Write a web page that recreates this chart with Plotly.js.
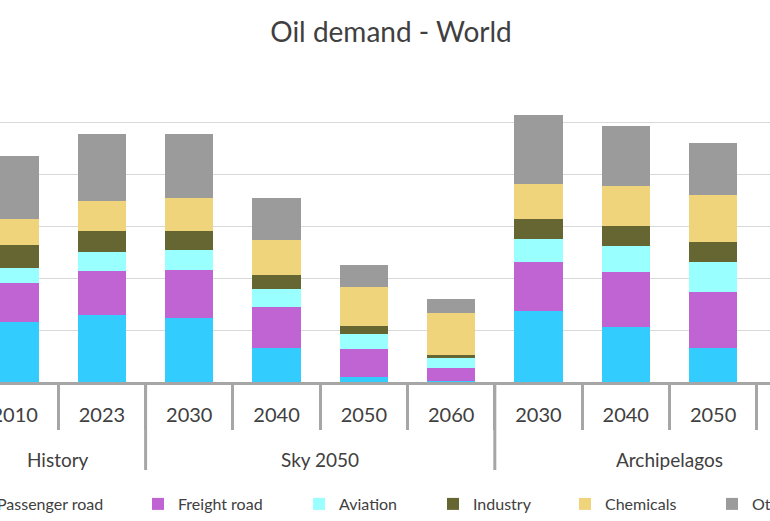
<!DOCTYPE html>
<html>
<head>
<meta charset="utf-8">
<script src="https://cdn.plot.ly/plotly-3.0.1.min.js"></script>
<style>
  html, body { margin: 0; padding: 0; background: #ffffff; overflow: hidden; }
  #chart { width: 770px; height: 521px; }
</style>
</head>
<body>
<div id="chart"></div>
<script>
// ---- data (million barrels per day) ----
const groups = ['History','History','Sky 2050','Sky 2050','Sky 2050','Sky 2050','Archipelagos','Archipelagos','Archipelagos','Archipelagos'];
const years  = ['2010','2023','2030','2040','2050','2060','2030','2040','2050','2060'];

const passengerRoad = [23.2, 25.9, 24.7, 13.1, 2.0, 0.3, 27.4, 21.1, 13.2, null];
const freightRoad   = [15.1, 16.7, 18.3, 15.7, 10.9, 5.0, 19.0, 21.4, 21.4, null];
const aviation      = [5.8, 7.5, 7.8, 7.2, 5.6, 3.8, 8.7, 10.0, 11.7, null];
const industry      = [8.5, 7.9, 7.2, 5.4, 3.1, 1.3, 7.8, 7.5, 7.8, null];
const chemicals     = [10.3, 11.6, 12.9, 13.3, 15.0, 16.1, 13.5, 15.4, 18.1, null];
const other         = [24.1, 25.8, 24.5, 16.2, 8.3, 5.4, 26.4, 23.1, 19.7, null];

const seriesNames  = ['Passenger road','Freight road','Aviation','Industry','Chemicals','Other'];
const seriesValues = [passengerRoad, freightRoad, aviation, industry, chemicals, other];
const seriesColors = ['#33CCFF','#C064D4','#99FFFF','#666633','#F0D47C','#9B9B9B'];

// ---- derived positions (category slots 0..n-1 on a linear axis) ----
const W = 770, H = 521;
const slots = years.map((_, i) => i);
const boundaries = [-0.5].concat(slots.map(i => i + 0.5));
const groupNames = [];
groups.forEach(g => { if (groupNames.indexOf(g) < 0) groupNames.push(g); });
const groupStarts = slots.filter(i => i === 0 || groups[i] !== groups[i - 1]).map(i => i - 0.5);
groupStarts.push(slots.length - 0.5);
const groupCenters = groupNames.map(g => {
  const idx = slots.filter(i => groups[i] === g);
  return idx.reduce((a, b) => a + b, 0) / idx.length;
});

const legendTextStart = [-3, 178, 339, 473, 605, 752];
const legendKeys = ['legend','legend2','legend3','legend4','legend5','legend6'];

const traces = seriesNames.map((name, i) => ({
  type: 'bar',
  name: name,
  x: slots,
  y: seriesValues[i],
  marker: { color: seriesColors[i], line: { width: 0 } },
  legend: legendKeys[i],
  hoverinfo: 'name+y'
}));

const textColor = '#404040';
const axisGray = '#A6A6A6';
const plotTop = 70, plotBottom = 382, plotH = plotBottom - plotTop;
const py = px => (plotBottom - px) / plotH;   // pixel row -> paper y

const shapes = groupStarts.map(b => ({
  type: 'line', xref: 'x', yref: 'paper',
  x0: b, x1: b, y0: 0, y1: py(470),
  line: { color: axisGray, width: 3 }, layer: 'above'
}));

const annotations = groupNames.map((g, k) => ({
  text: g, xref: 'x', yref: 'paper',
  x: groupCenters[k], y: py(459), xanchor: 'center', yanchor: 'middle',
  showarrow: false, font: { size: 19, color: textColor }
}));

const layout = {
  width: W,
  height: H,
  paper_bgcolor: '#ffffff',
  plot_bgcolor: '#ffffff',
  font: { family: 'Lato, "Open Sans", sans-serif', color: textColor },
  margin: { l: 0, r: 0, t: plotTop, b: H - plotBottom, pad: 0, autoexpand: false },
  barmode: 'stack',
  bargap: 0.446,
  title: {
    text: 'Oil demand - World',
    font: { size: 28, color: textColor, family: 'Lato, sans-serif' },
    xref: 'paper', x: 391 / W, xanchor: 'center',
    yref: 'container', y: 1 - 32 / H, yanchor: 'middle'
  },
  xaxis: {
    type: 'linear',
    autorange: false,
    range: [-0.1678, 8.652],
    showline: true,
    linecolor: axisGray,
    linewidth: 3,
    tickmode: 'array',
    tickvals: slots,
    ticktext: years,
    ticks: '',
    tickfont: { size: 20, color: textColor },
    ticklabelstandoff: 13,
    ticklabeloverflow: 'allow',
    minor: {
      tickmode: 'array',
      tickvals: boundaries,
      ticks: 'outside',
      ticklen: 45,
      tickwidth: 3,
      tickcolor: axisGray,
      showgrid: false
    },
    showgrid: false,
    zeroline: false,
    automargin: false,
    fixedrange: true
  },
  yaxis: {
    autorange: false,
    range: [0, 120.2],
    dtick: 20,
    showgrid: true,
    gridcolor: '#D9D9D9',
    gridwidth: 1,
    zeroline: false,
    showline: false,
    showticklabels: false,
    ticks: '',
    automargin: false,
    fixedrange: true
  },
  shapes: shapes,
  annotations: annotations,
  showlegend: true
};

const legendYpx = 504;
legendKeys.forEach((k, i) => {
  layout[k] = {
    x: (legendTextStart[i] - 40) / W,
    xanchor: 'left',
    xref: 'paper',
    y: py(legendYpx),
    yanchor: 'middle',
    yref: 'paper',
    orientation: 'h',
    bgcolor: 'rgba(0,0,0,0)',
    borderwidth: 0,
    font: { size: 16, color: textColor }
  };
});

Plotly.newPlot('chart', traces, layout, { displayModeBar: false, staticPlot: true });
</script>
</body>
</html>
